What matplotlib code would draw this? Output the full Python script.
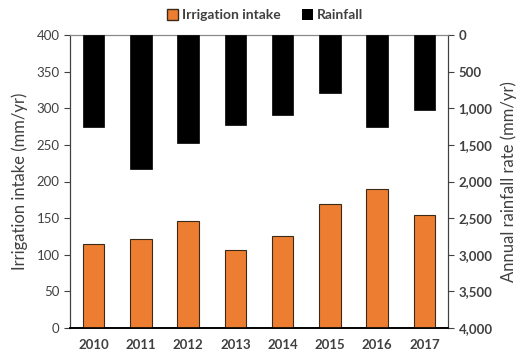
import numpy as np
import matplotlib.pyplot as plt
from matplotlib.ticker import FuncFormatter
from matplotlib.patches import Patch

plt.rcParams['font.family'] = ['Lato', 'DejaVu Sans']

# Data
years = ['2010', '2011', '2012', '2013', '2014', '2015', '2016', '2017']
irrigation = [115, 121, 146, 106, 125, 169, 190, 154]  # mm/yr
rainfall = [1250, 1830, 1475, 1235, 1090, 785, 1260, 1030]  # mm/yr

orange = '#ED7D31'
grey = '#404040'

x = np.arange(len(years))
width = 0.45

fig = plt.figure(figsize=(5.31, 3.64), dpi=100)
ax = fig.add_axes([70 / 531, 1 - 328 / 364, 378 / 531, 293 / 364])
ax2 = ax.twinx()

# Irrigation bars on left axis
ax.bar(x, irrigation, width, color=orange, edgecolor='#3a2a1a', linewidth=0.8, zorder=3)
ax.set_ylim(0, 400)
ax.set_xlim(-0.5, len(years) - 0.5)
ax.set_yticks(np.arange(0, 401, 50))
ax.set_xticks(x)
ax.set_xticklabels(years, fontweight='bold', color=grey, fontsize=9.5)
ax.tick_params(axis='x', length=0, pad=8)
ax.tick_params(axis='y', labelsize=9.5, labelcolor=grey, length=4, color=grey)
ax.set_ylabel('Irrigation intake (mm/yr)', fontsize=12, color=grey, labelpad=6)

# Rainfall bars hang from the top on the inverted right axis
ax2.bar(x, rainfall, width, color='black', edgecolor='black', linewidth=0.5, zorder=3)
ax2.set_ylim(4000, 0)
ax2.set_yticks(np.arange(0, 4001, 500))
ax2.yaxis.set_major_formatter(FuncFormatter(lambda v, p: f'{int(v):,}'))
ax2.tick_params(axis='y', labelsize=9.5, labelcolor=grey, length=4, color=grey)
for lab in ax2.get_yticklabels():
    lab.set_fontweight('bold')
ax2.set_ylabel('Annual rainfall rate (mm/yr)', fontsize=12, color=grey, labelpad=6)

for a in (ax, ax2):
    a.spines['top'].set_color('#888888')
    a.spines['left'].set_color(grey)
    a.spines['right'].set_color(grey)
    a.spines['bottom'].set_color('black')
    a.spines['bottom'].set_linewidth(1.2)

handles = [Patch(facecolor=orange, edgecolor='#3a2a1a', label='Irrigation intake'),
           Patch(facecolor='black', label='Rainfall')]
leg = fig.legend(handles=handles, loc='center', bbox_to_anchor=(265 / 531, 1 - 15 / 364),
                 ncol=2, frameon=False, fontsize=10, handlelength=0.8, handleheight=0.8,
                 handletextpad=0.3, columnspacing=1.5)
for t in leg.get_texts():
    t.set_color(grey)
    t.set_fontweight('bold')

fig.savefig('out.png', dpi=100)
